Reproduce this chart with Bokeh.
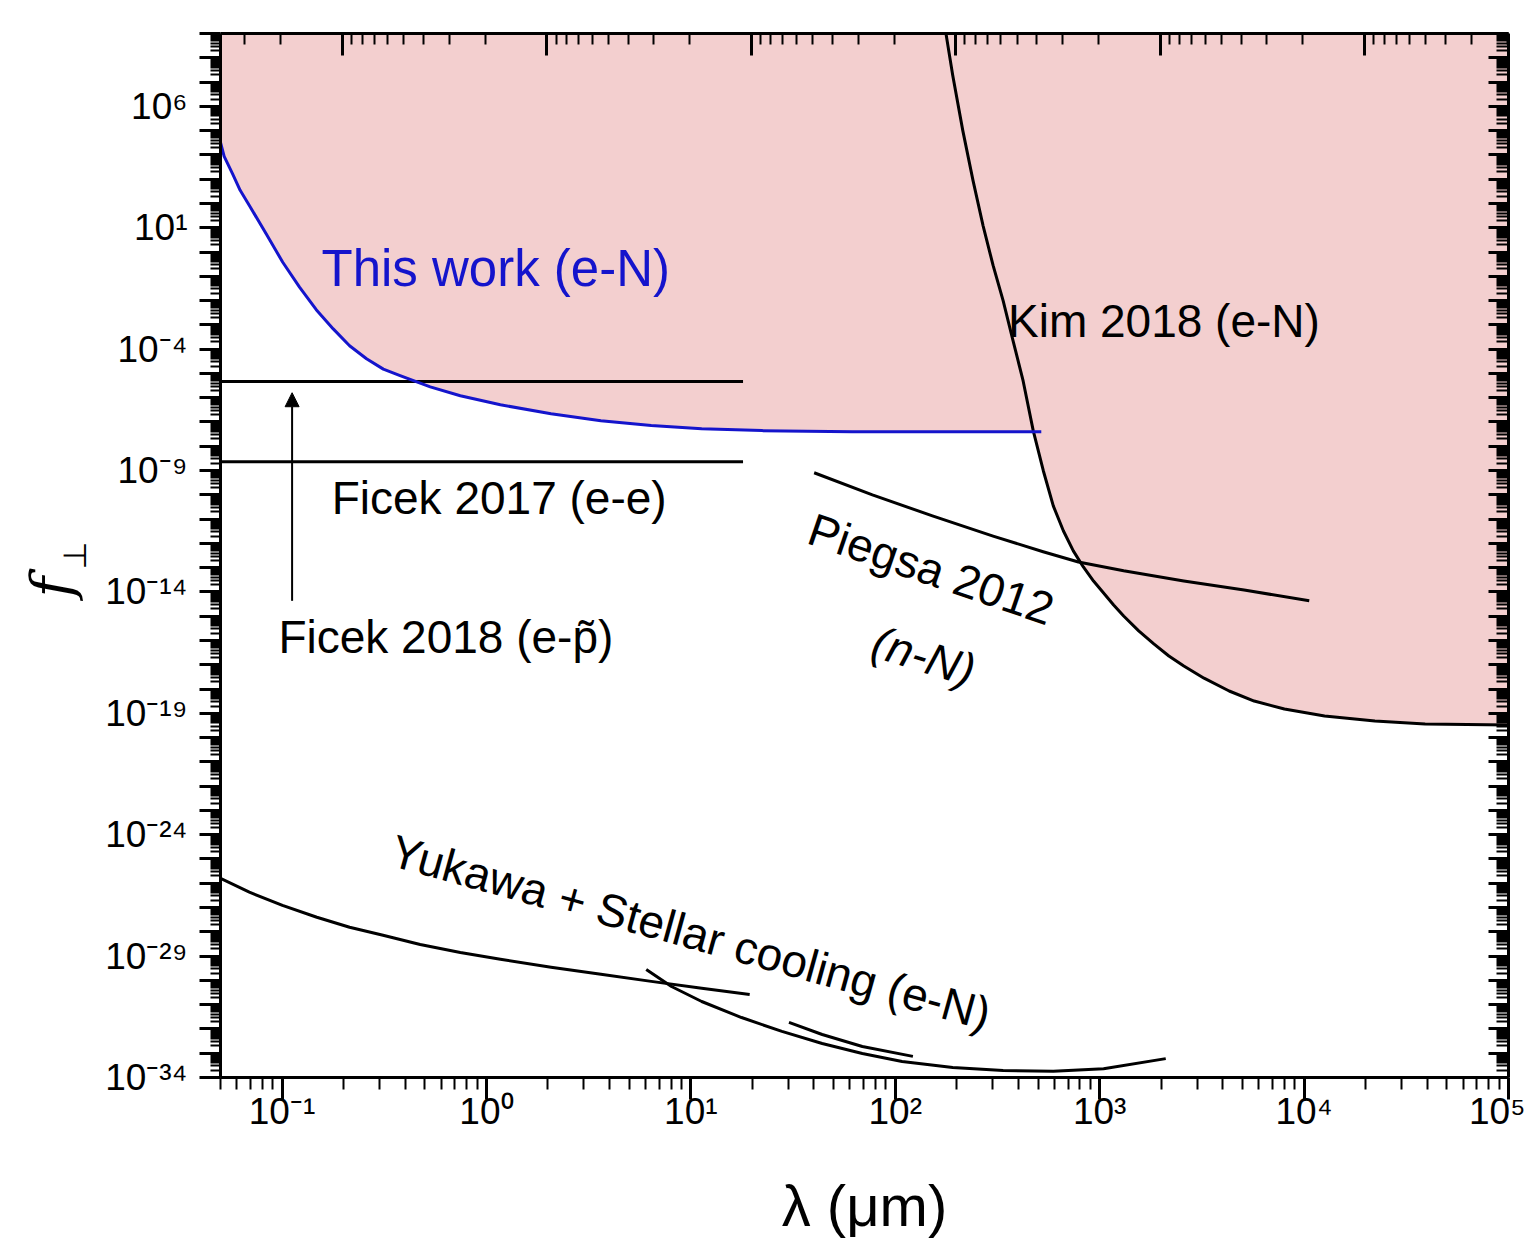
import numpy as np
from bokeh.plotting import figure
from bokeh.models import (LogAxis, FixedTicker, CustomJSTickFormatter, Label,
                          Arrow, NormalHead, Range1d, Title)
from bokeh.embed import file_html
from bokeh.resources import INLINE

# ---------------- data ----------------
X_RANGE = (0.05, 1e5)          # lambda (um)
Y_RANGE = (1e-34, 1e9)         # f_perp

# This work (e-N)
this_lam = [0.05, 0.0521, 0.0573, 0.0624, 0.0692, 0.0836, 0.1008, 0.122, 0.147,
            0.178, 0.214, 0.259, 0.313, 0.378, 0.531, 0.745, 1.17, 2.07, 3.63,
            6.4, 11.3, 22.2, 61.6, 518]
this_f = [3.3e4, 8.7e3, 1.66e3, 347, 83, 5.6, 0.38, 0.035, 4.2e-3,
          6.8e-4, 1.38e-4, 4.0e-5, 1.5e-5, 8.1e-6, 2.8e-6, 1.2e-6, 5.1e-7, 2.2e-7, 1.12e-7,
          7.1e-8, 5.2e-8, 4.4e-8, 4.0e-8, 4.0e-8]

# Kim 2018 (e-N)
kim_lam = [177, 191, 214, 240, 269, 301, 337, 377, 422, 473, 530, 593, 664, 743,
           832, 933, 1045, 1170, 1310, 1552, 1840, 2180, 2580, 3240, 4300, 5700,
           8010, 12600, 22200, 39100, 100000]
kim_f = [1e9, 1.9e7, 1.0e5, 890, 12, 0.28, 1e-2, 2.2e-4, 5e-6, 4.4e-8, 9.8e-10,
         3.5e-11, 3.3e-12, 4.9e-13, 1.07e-13, 2.8e-14, 9.1e-15, 2.9e-15, 1.02e-15,
         2.5e-16, 7.2e-17, 2.3e-17, 8.9e-18, 2.8e-18, 8.3e-19, 3.2e-19,
         1.5e-19, 7.8e-20, 4.8e-20, 3.6e-20, 3.3e-20]

# Ficek 2017 (e-e) and Ficek 2018 (e-p~): constant bounds
ficek17_lam = [0.05, 18]
ficek17_f = [2.3e-9, 2.3e-9]
ficek18_lam = [0.05, 18]
ficek18_f = [4.6e-6, 4.6e-6]

# Piegsa 2012 (n-N)
piegsa_lam = [40.1, 77.3, 152, 301, 529, 787, 1310, 2580, 5090, 10600]
piegsa_f = [8.1e-10, 1.0e-10, 1.35e-11, 2.0e-12, 4.5e-13, 1.7e-13, 7.4e-14,
            2.8e-14, 1.2e-14, 4.3e-15]

# Yukawa + stellar cooling (e-N), three pieces
yuk1_lam = [0.05, 0.0692, 0.1005, 0.148, 0.214, 0.312, 0.474, 0.745, 1.17, 2.07,
            3.63, 6.4, 11.3, 19.4]
yuk1_f = [1.6e-26, 4.3e-27, 1.23e-27, 4.0e-28, 1.55e-28, 7.2e-29, 3.0e-29, 1.4e-29,
          7.4e-30, 3.5e-30, 1.8e-30, 9.1e-31, 4.7e-31, 2.6e-31]
yuk2_lam = [6.05, 8.04, 11.3, 17.7, 27.9, 43.9, 69, 108, 191, 337, 593, 1045, 2105]
yuk2_f = [2.8e-30, 5.6e-31, 1.35e-31, 2.95e-32, 7.9e-33, 2.5e-33, 9.8e-34,
          4.6e-34, 2.6e-34, 1.95e-34, 1.8e-34, 2.3e-34, 6.0e-34]
yuk3_lam = [30.2, 43.9, 69, 122]
yuk3_f = [1.86e-32, 5.9e-33, 1.9e-33, 7.4e-34]

# arrow (Ficek 2018)
arrow_lam = 0.112
arrow_f = (4.3e-15, 1.6e-6)

# axis ticks
x_major = [10.0 ** k for k in range(-1, 6)]
x_minor = [m * 10.0 ** k for k in range(-2, 5) for m in range(2, 10)]
y_major = [10.0 ** k for k in range(-34, 10)]
y_minor = [m * 10.0 ** k for k in range(-34, 9) for m in range(2, 10)]
Y_LABEL_BASE, Y_LABEL_STEP = -34, 5
HBAR_C = 0.1973                 # eV*um : top axis = mass scale
mass_major = [HBAR_C * 10.0 ** j for j in range(-1, 6)]
mass_minor = [HBAR_C * 10.0 ** j / m for j in range(-1, 7) for m in range(2, 10)]

# ---------------- styling ----------------
PINK = "#f3cfcf"
BLUE = "#1414cc"
FONT = "Liberation Sans"

p = figure(width=1525, height=1244, x_axis_type="log", y_axis_type="log",
           x_range=Range1d(*X_RANGE), y_range=Range1d(*Y_RANGE),
           output_backend="svg", toolbar_location=None,
           min_border_left=220, min_border_top=33, min_border_right=17,
           min_border_bottom=167, outline_line_color=None,
           background_fill_color="white", border_fill_color="white")
p.xgrid.visible = False
p.ygrid.visible = False

# excluded regions (pink)
p.patch(this_lam + [this_lam[-1], this_lam[0]],
        this_f + [Y_RANGE[1], Y_RANGE[1]],
        fill_color=PINK, line_color=None)
p.patch(kim_lam + [kim_lam[-1], kim_lam[0]],
        kim_f + [Y_RANGE[1], Y_RANGE[1]],
        fill_color=PINK, line_color=None)

# curves
for lx, ly in [(ficek17_lam, ficek17_f), (ficek18_lam, ficek18_f),
               (piegsa_lam, piegsa_f), (kim_lam, kim_f),
               (yuk1_lam, yuk1_f), (yuk2_lam, yuk2_f), (yuk3_lam, yuk3_f)]:
    p.line(lx, ly, line_color="black", line_width=3, line_join="round")
p.line(this_lam, this_f, line_color=BLUE, line_width=3, line_join="round")

p.add_layout(Arrow(end=NormalHead(size=14, fill_color="black", line_color="black"),
                   x_start=arrow_lam, y_start=arrow_f[0], x_end=arrow_lam, y_end=arrow_f[1],
                   line_color="black", line_width=2))

# ---------------- axes ----------------
SUP = """
const sup = {"0":"\u2070","1":"\u00b9","2":"\u00b2","3":"\u00b3","4":"\u2074","5":"\u2075",
             "6":"\u2076","7":"\u2077","8":"\u2078","9":"\u2079","-":"\u207b"};
"""
x_fmt = CustomJSTickFormatter(code=SUP + """
const e = Math.round(Math.log10(tick));
return "10" + String(e).split("").map(c => sup[c]).join("");
""")
y_fmt = CustomJSTickFormatter(args=dict(base=Y_LABEL_BASE, step=Y_LABEL_STEP), code=SUP + """
const e = Math.round(Math.log10(tick));
if ((((e - base) % step) + step) % step != 0) return "";
return "10" + String(e).split("").map(c => sup[c]).join("");
""")
blank = CustomJSTickFormatter(code="return '';")

def style_axis(ax):
    ax.axis_line_width = 3
    ax.axis_line_color = "black"
    ax.major_tick_line_width = 3
    ax.minor_tick_line_width = 2
    ax.major_tick_line_color = "black"
    ax.minor_tick_line_color = "black"
    ax.major_label_text_font = FONT
    ax.major_label_text_font_size = "37px"
    ax.major_label_text_color = "black"

xa = p.xaxis[0]
xa.ticker = FixedTicker(ticks=x_major, minor_ticks=x_minor)
xa.formatter = x_fmt
style_axis(xa)
xa.major_tick_out, xa.major_tick_in = 22, 0
xa.minor_tick_out, xa.minor_tick_in = 12, 0
xa.major_label_standoff = -9
xa.axis_label = "\u03bb (\u03bcm)"
xa.axis_label_text_font = FONT
xa.axis_label_text_font_style = "normal"
xa.axis_label_text_font_size = "58px"
xa.axis_label_text_color = "black"
xa.axis_label_standoff = 38

ya = p.yaxis[0]
ya.ticker = FixedTicker(ticks=y_major, minor_ticks=y_minor)
ya.formatter = y_fmt
style_axis(ya)
ya.major_tick_out, ya.major_tick_in = 21, 0
ya.minor_tick_out, ya.minor_tick_in = 10, 0
ya.major_label_standoff = 12
# subscript "perp" of f_perp sits next to the tick labels
ya.axis_label = "\u22a5"
ya.axis_label_text_font = "DejaVu Sans"
ya.axis_label_text_font_style = "normal"
ya.axis_label_text_font_size = "32px"
ya.axis_label_text_color = "black"
ya.axis_label_standoff = 8

top = LogAxis(ticker=FixedTicker(ticks=mass_major, minor_ticks=mass_minor), formatter=blank)
style_axis(top)
top.major_label_text_font_size = "0px"
top.major_tick_out, top.major_tick_in = 0, 22
top.minor_tick_out, top.minor_tick_in = 0, 11
p.add_layout(top, "above")

right = LogAxis(ticker=FixedTicker(ticks=y_major, minor_ticks=y_minor), formatter=blank)
style_axis(right)
right.major_label_text_font_size = "0px"
right.major_tick_out, right.major_tick_in = 0, 20
right.minor_tick_out, right.minor_tick_in = 0, 12
p.add_layout(right, "right")

# italic f of f_perp, outside the subscript
p.add_layout(Title(text="f", text_font="DejaVu Serif", text_font_size="56px",
                   text_font_style="italic", align="left", offset=480, standoff=-60,
                   text_color="black"), "left")

# ---------------- annotations ----------------
def note(x, y, text, size="46px", color="black", angle=0.0, align="left", style="normal"):
    p.add_layout(Label(x=x, y=y, text=text, angle=angle, text_font=FONT,
                       text_font_size=size, text_color=color, text_align=align,
                       text_baseline="middle", text_font_style=style))

note(0.156, 0.21, "This work (e-N)", size="51px", color=BLUE)
note(356, 1.5e-3, "Kim 2018 (e-N)")
note(0.175, 7.6e-11, "Ficek 2017 (e-e)")
note(0.096, 1.4e-16, "Ficek 2018 (e-p\u0303)")
note(150, 8.7e-14, "Piegsa 2012", angle=-0.33, align="center")
note(138, 2.3e-17, "(n-N)", angle=-0.30, align="center", style="italic")
note(10.0, 9.6e-29, "Yukawa + Stellar cooling (e-N)", angle=-0.27, align="center")

open("out.html", "w").write(file_html(p, INLINE))
